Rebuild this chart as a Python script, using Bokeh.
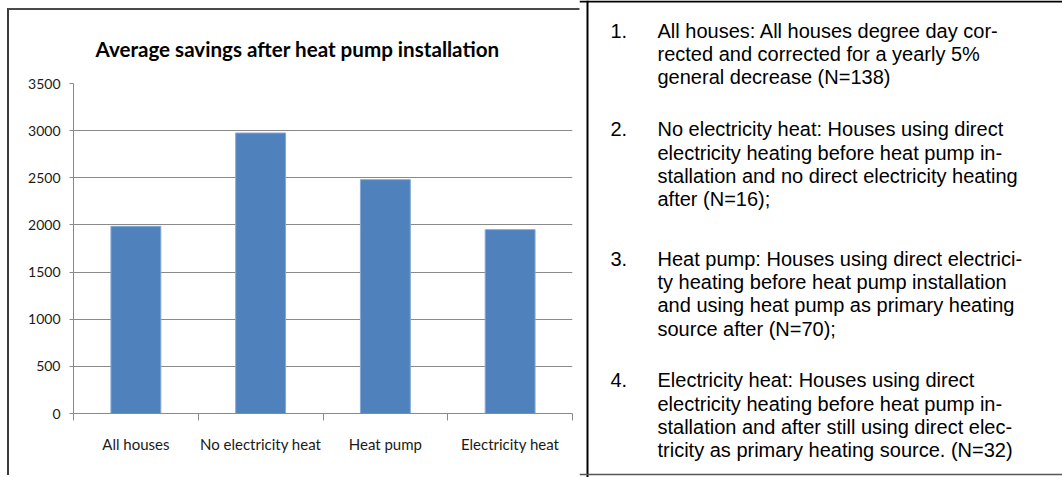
from bokeh.plotting import figure
from bokeh.models import (Range1d, LinearAxis, FixedTicker, Span, ColumnDataSource)
from bokeh.embed import file_html
from bokeh.resources import INLINE
from bokeh.core.properties import value

# ---------------- data ----------------
categories = ["All houses", "No electricity heat", "Heat pump", "Electricity heat"]
savings = [1985, 2975, 2480, 1950]
y_ticks = [0, 500, 1000, 1500, 2000, 2500, 3000, 3500]
title_text = "Average savings after heat pump installation"

note_numbers = ["1.", "2.", "3.", "4."]
note_lines = [
    ["All houses: All houses degree day cor-",
     "rected and corrected for a yearly 5%",
     "general decrease (N=138)"],
    ["No electricity heat: Houses using direct",
     "electricity heating before heat pump in-",
     "stallation and no direct electricity heating",
     "after (N=16);"],
    ["Heat pump: Houses using direct electrici-",
     "ty heating before heat pump installation",
     "and using heat pump as primary heating",
     "source after (N=70);"],
    ["Electricity heat: Houses using direct",
     "electricity heating before heat pump in-",
     "stallation and after still using direct elec-",
     "tricity as primary heating source. (N=32)"],
]

# ---------------- styles ----------------
CHART_FONT = "Lato"
NOTE_FONT = "Liberation Sans"
BAR_COLOR = "#4F81BD"
BAR_EDGE = "#86A8D6"
GRID = "#8a8a8a"
TEXT = "#1a1a1a"

n = len(categories)
centers = [i + 0.5 for i in range(n)]   # category slots on a 0..n scale
edges = list(range(n + 1))

# ---------------- chart ----------------
p = figure(width=577, height=467,
           x_range=Range1d(0, n), y_range=Range1d(0, y_ticks[-1]),
           x_axis_location=None, y_axis_location="left",
           output_backend="svg", toolbar_location=None,
           min_border_left=64, min_border_right=14, min_border_top=73, min_border_bottom=64,
           outline_line_color=None, background_fill_color="white", border_fill_color="white",
           styles={"position": "absolute", "left": "7px", "top": "8px",
                   "border-left": "2px solid #3c3c3c", "border-top": "2px solid #4a4a4a"})

p.xgrid.grid_line_color = None
p.ygrid.ticker = FixedTicker(ticks=y_ticks)
p.ygrid.grid_line_color = GRID
p.ygrid.grid_line_width = 1

yax = p.yaxis[0]
yax.ticker = FixedTicker(ticks=y_ticks)
yax.axis_line_color = GRID
yax.major_tick_line_color = GRID
yax.major_tick_out = 4
yax.major_tick_in = 0
yax.minor_tick_line_color = None
yax.major_label_text_font = CHART_FONT
yax.major_label_text_font_size = "14px"
yax.major_label_text_color = TEXT
yax.major_label_standoff = 9

# category axis: labels centred in each slot, tick marks on slot boundaries
cat_axis = LinearAxis(ticker=FixedTicker(ticks=centers, minor_ticks=edges),
                      major_label_overrides={c: name for c, name in zip(centers, categories)},
                      axis_line_color=GRID,
                      major_tick_line_color=None, major_tick_out=0, major_tick_in=0,
                      minor_tick_line_color=GRID, minor_tick_out=7, minor_tick_in=0,
                      major_label_text_font=CHART_FONT,
                      major_label_text_font_size="15px",
                      major_label_text_color=TEXT,
                      major_label_standoff=14)
p.add_layout(cat_axis, "below")

src = ColumnDataSource(data=dict(x=centers, cat=categories, val=savings))
p.vbar(x="x", top="val", width=0.4, source=src,
       fill_color=BAR_COLOR, line_color=BAR_EDGE, line_width=1)

# ---------------- notes box ----------------
W2, H2 = 483, 477
p2 = figure(width=W2, height=H2, x_range=Range1d(0, W2), y_range=Range1d(H2, 0),
            output_backend="svg", toolbar_location=None, min_border=0,
            x_axis_location=None, y_axis_location=None,
            outline_line_color=None, background_fill_color="white", border_fill_color="white",
            styles={"position": "absolute", "left": "579px", "top": "0px"})
p2.grid.grid_line_color = None

p2.add_layout(Span(location=8, dimension="height", line_color="black", line_width=2))
p2.add_layout(Span(location=1, dimension="width", line_color="black", line_width=2))
p2.add_layout(Span(location=474, dimension="width", line_color="#555555", line_width=1.5))

item_starts = [30, 128.7, 258, 379.7]
LINE = 23.35
NUM_X, TXT_X = 31, 78

num_x, num_y, txt_x, txt_y, txt = [], [], [], [], []
for k, (num, lines) in enumerate(zip(note_numbers, note_lines)):
    num_x.append(NUM_X)
    num_y.append(item_starts[k])
    for j, line in enumerate(lines):
        txt_x.append(TXT_X)
        txt_y.append(item_starts[k] + j * LINE)
        txt.append(line)

p2.text(x=num_x, y=num_y, text=note_numbers, text_font=value(NOTE_FONT),
        text_font_size="20px", text_baseline="alphabetic", text_align="left",
        text_color="black")
p2.text(x=txt_x, y=txt_y, text=txt, text_font=value(NOTE_FONT),
        text_font_size="20px", text_baseline="alphabetic", text_align="left",
        text_color="black")

# ---------------- chart title (transparent overlay above the chart) ----------------
WT, HT = 579, 70
pt = figure(width=WT, height=HT, x_range=Range1d(0, WT), y_range=Range1d(HT, 0),
            output_backend="svg", toolbar_location=None, min_border=0,
            x_axis_location=None, y_axis_location=None,
            outline_line_color=None, background_fill_color=None, border_fill_color=None,
            styles={"position": "absolute", "left": "0px", "top": "0px"})
pt.grid.grid_line_color = None
pt.text(x=[297], y=[48], text=[title_text], text_font=value(CHART_FONT),
        text_font_size="20.6px", text_font_style="bold", text_baseline="alphabetic",
        text_align="center", text_color="#000000")

open("out.html", "w").write(file_html([p, p2, pt], INLINE))
